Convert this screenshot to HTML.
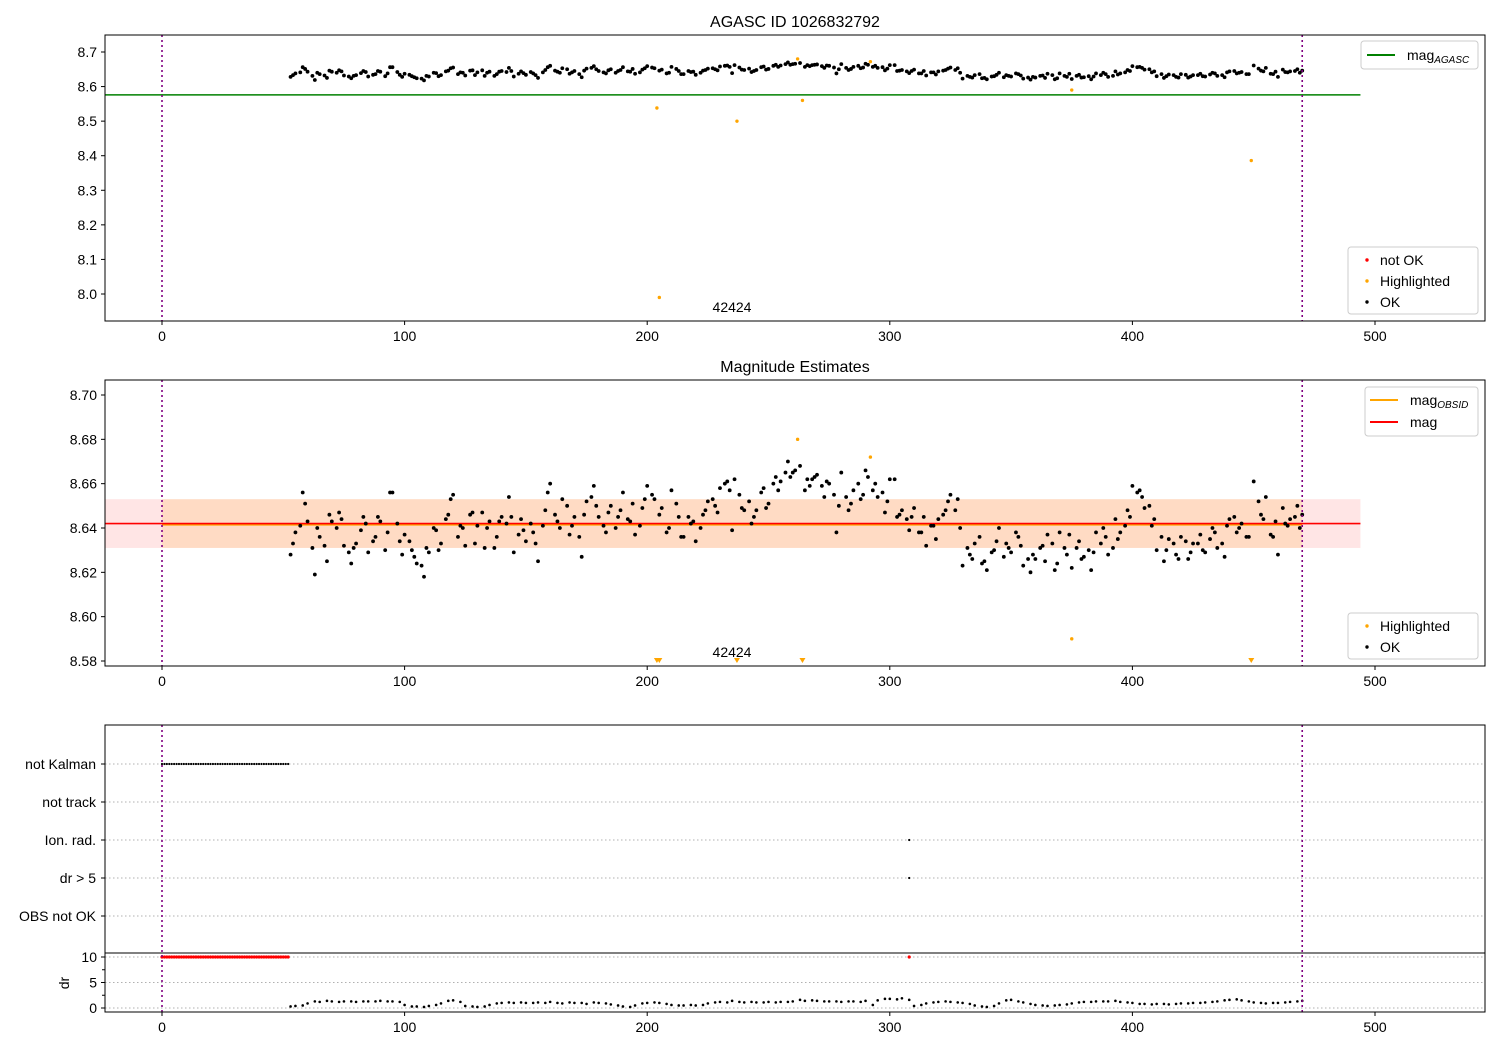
<!DOCTYPE html>
<html><head><meta charset="utf-8">
<style>
body{margin:0;background:#fff;}
svg{display:block;font-family:"Liberation Sans","DejaVu Sans",sans-serif;}
</style></head>
<body>
<svg id="chart" width="1500" height="1050" viewBox="0 0 1500 1050" xmlns="http://www.w3.org/2000/svg">
<rect width="1500" height="1050" fill="#fff"/>
<defs>
<clipPath id="c1"><rect x="105" y="35" width="1380" height="286"/></clipPath>
<clipPath id="c2"><rect x="105" y="380" width="1380" height="286"/></clipPath>
<clipPath id="c3"><rect x="105" y="725" width="1380" height="287"/></clipPath>
</defs>
<text x="795" y="27" text-anchor="middle" font-size="16">AGASC ID 1026832792</text>
<text x="795" y="372" text-anchor="middle" font-size="16">Magnitude Estimates</text>
<g id="g1" clip-path="url(#c1)"></g>
<g id="g2" clip-path="url(#c2)"></g>
<g id="g3" clip-path="url(#c3)"></g>
<g id="axes"></g>
</svg>
<script>
const times=[53,55,58,60,63,65,68,70,73,75,78,80,83,85,88,90,93,95,98,100,103,105,108,110,113,115,118,120,123,125,128,130,133,135,138,140,143,145,148,150,153,155,158,160,163,165,168,170,173,175,178,180,183,185,188,190,193,195,198,200,203,205,208,210,213,215,218,220,223,225,228,230,233,235,238,240,243,245,248,250,253,255,258,260,263,265,268,270,273,275,278,280,283,285,288,290,293,295,298,300,303,305,308,310,313,315,318,320,323,325,328,330,333,335,338,340,343,345,348,350,353,355,358,360,363,365,368,370,373,375,378,380,383,385,388,390,393,395,398,400,403,405,408,410,413,415,418,420,423,425,428,430,433,435,438,440,443,445,448,450,453,455,458,460,463,465,468,470];
const mags=[8.628,8.638,8.656,8.643,8.619,8.636,8.625,8.643,8.647,8.632,
8.624,8.633,8.645,8.629,8.636,8.643,8.638,8.656,8.634,8.637,
8.630,8.624,8.618,8.629,8.639,8.633,8.646,8.655,8.641,8.632,
8.647,8.641,8.631,8.643,8.636,8.645,8.654,8.629,8.644,8.634,
8.638,8.625,8.648,8.660,8.643,8.653,8.637,8.645,8.627,8.652,
8.659,8.645,8.638,8.650,8.645,8.656,8.643,8.637,8.649,8.659,
8.653,8.646,8.638,8.657,8.645,8.636,8.642,8.634,8.646,8.652,
8.650,8.658,8.661,8.639,8.655,8.648,8.642,8.648,8.658,8.651,
8.663,8.661,8.670,8.665,8.668,8.657,8.662,8.664,8.654,8.660,
8.638,8.665,8.648,8.657,8.653,8.666,8.657,8.654,8.647,8.662,
8.645,8.648,8.639,8.649,8.638,8.632,8.641,8.644,8.648,8.655,
8.653,8.623,8.628,8.633,8.624,8.621,8.630,8.640,8.633,8.629,
8.636,8.623,8.620,8.626,8.632,8.637,8.621,8.638,8.628,8.622,
8.634,8.627,8.621,8.638,8.640,8.628,8.644,8.638,8.648,8.659,
8.657,8.649,8.641,8.630,8.625,8.635,8.628,8.636,8.626,8.633,
8.637,8.629,8.640,8.631,8.627,8.644,8.638,8.642,8.636,8.661,
8.646,8.654,8.636,8.628,8.642,8.644,8.650,8.646];
const times2=[54,57,59,62,64,67,69,72,74,77,79,82,84,87,89,92,94,97,99,102,104,107,109,112,114,117,119,122,124,127,129,132,134,137,139,142,144,147,149,152,154,157,159,162,164,167,169,172,174,177,179,182,184,187,189,192,194,197,199,202,206,209,212,214,217,219,222,224,227,229,232,234,236,239,242,244,247,249,252,254,257,259,261,266,267,269,272,274,277,279,282,284,287,289,291,294,297,299,302,304,307,309,312,314,317,319,322,324,327,329,332,334,337,339,342,344,347,349,352,354,357,359,362,364,367,369,372,374,377,379,382,384,387,389,392,394,397,399,402,404,407,409,412,414,417,419,422,424,427,429,432,434,437,439,442,444,447,452,454,457,459,462,464,467,469];
const mags2=[8.633,8.641,8.651,8.631,8.640,8.632,8.646,8.640,8.644,8.629,
8.631,8.639,8.642,8.634,8.645,8.630,8.656,8.642,8.628,8.634,
8.627,8.623,8.631,8.640,8.630,8.644,8.653,8.636,8.640,8.646,
8.633,8.647,8.640,8.631,8.643,8.642,8.645,8.637,8.639,8.642,
8.633,8.641,8.656,8.646,8.640,8.650,8.641,8.636,8.646,8.654,
8.650,8.641,8.647,8.640,8.648,8.644,8.651,8.641,8.653,8.655,
8.649,8.640,8.651,8.636,8.645,8.643,8.640,8.648,8.653,8.647,
8.660,8.657,8.662,8.649,8.652,8.645,8.656,8.649,8.660,8.657,
8.665,8.663,8.666,8.662,8.659,8.663,8.659,8.661,8.655,8.650,
8.654,8.651,8.660,8.655,8.663,8.660,8.656,8.652,8.662,8.646,
8.644,8.645,8.638,8.645,8.641,8.635,8.646,8.652,8.648,8.640,
8.631,8.626,8.636,8.625,8.629,8.634,8.627,8.631,8.638,8.632,
8.626,8.628,8.631,8.625,8.633,8.624,8.631,8.637,8.631,8.626,
8.630,8.629,8.633,8.636,8.631,8.635,8.641,8.645,8.656,8.654,
8.650,8.644,8.636,8.630,8.633,8.626,8.634,8.629,8.633,8.630,
8.635,8.638,8.633,8.641,8.645,8.640,8.636,8.652,8.644,8.637,
8.643,8.649,8.641,8.645,8.640];
const drs=[0.3,0.4,0.5,0.9,1.3,1.2,1.4,1.3,1.2,1.3,
1.3,1.2,1.3,1.3,1.3,1.4,1.3,1.3,1.2,0.6,
0.3,0.3,0.2,0.4,0.6,0.9,1.4,1.5,1.2,0.4,
0.3,0.2,0.3,0.6,0.9,1.0,1.1,1.0,1.1,1.0,
1.0,1.1,1.0,1.2,1.0,0.9,1.1,1.0,1.0,0.8,
1.1,1.0,0.9,0.7,0.5,0.3,0.2,0.5,0.9,1.0,
1.1,1.0,0.8,0.6,0.5,0.5,0.6,0.5,0.6,0.9,
1.1,1.2,1.1,1.4,1.2,1.1,1.2,1.1,1.1,1.2,
1.1,1.2,1.2,1.3,1.6,1.4,1.5,1.4,1.3,1.3,
1.3,1.2,1.3,1.3,1.2,1.4,0.6,1.5,1.8,1.8,
1.7,1.9,1.6,0.4,0.6,0.9,1.1,1.2,1.3,1.2,
1.1,1.0,0.8,0.5,0.3,0.2,0.4,0.9,1.5,1.6,
1.3,1.1,0.8,0.6,0.5,0.4,0.5,0.6,0.7,0.9,
1.1,1.2,1.2,1.3,1.3,1.3,1.4,1.2,1.1,1.0,
0.8,0.8,0.7,0.8,0.8,0.7,0.8,0.9,0.9,1.0,
1.0,1.1,1.2,1.3,1.5,1.6,1.7,1.5,1.3,1.1,
1.0,0.9,1.0,1.0,1.1,1.2,1.3,1.4];
const hiTimes=[204,205,237,262,264,292,375,449];
const hiMags=[8.538,7.990,8.500,8.680,8.560,8.672,8.590,8.386];
const kalmanTimes=[0,1,2,3,4,5,6,7,8,9,10,11,12,13,14,15,16,17,18,19,20,21,22,23,24,25,26,27,28,29,30,31,32,33,34,35,36,37,38,39,40,41,42,43,44,45,46,47,48,49,50,51,52];
const ionTimes=[308];
const drBigTimes=[308];
const agascMag=8.576, obsMag=8.642, magLo=8.631, magHi=8.653;
const xTicks=[0,100,200,300,400,500];
const y1Ticks=[8.0,8.1,8.2,8.3,8.4,8.5,8.6,8.7];
const y2Ticks=[8.58,8.60,8.62,8.64,8.66,8.68,8.70];
const cats=["not Kalman","not track","Ion. rad.","dr > 5","OBS not OK"];
const drTicks=[0,5,10];

const NS="http://www.w3.org/2000/svg";
const X=t=>162+t*2.426;
const Y1=m=>52+(8.7-m)*345.7;
const Y2=m=>395+(8.70-m)*2216.7;
const YD=d=>1008-d*5.1;
const catY=i=>764+i*38;
function mk(tag,attrs,parent){const e=document.createElementNS(NS,tag);for(const k in attrs)e.setAttribute(k,attrs[k]);parent.appendChild(e);return e;}
const g1=document.getElementById('g1'),g2=document.getElementById('g2'),g3=document.getElementById('g3'),ax=document.getElementById('axes');
const allT=times.concat(times2), allM=mags.concat(mags2);

// panel 1
let e;
e=mk('line',{x1:105,x2:X(494),y1:Y1(agascMag),y2:Y1(agascMag),stroke:'#008000','stroke-width':1.6},g1);

allT.forEach((t,i)=>{const c=mk('circle',{cx:X(t),cy:Y1(allM[i]),r:1.9,fill:'#000'},g1);
});
hiTimes.forEach((t,i)=>{const c=mk('circle',{cx:X(t),cy:Y1(hiMags[i]),r:1.7,fill:'orange'},g1);
});

// panel 2
e=mk('rect',{x:105,y:Y2(magHi),width:X(494)-105,height:Y2(magLo)-Y2(magHi),fill:'rgba(255,0,0,0.1)'},g2);

e=mk('rect',{x:X(0),y:Y2(magHi),width:X(470)-X(0),height:Y2(magLo)-Y2(magHi),fill:'rgba(255,165,0,0.14)'},g2);

e=mk('line',{x1:X(0),x2:X(470),y1:Y2(obsMag)+1,y2:Y2(obsMag)+1,stroke:'orange','stroke-width':2},g2);

e=mk('line',{x1:105,x2:X(494),y1:Y2(obsMag),y2:Y2(obsMag),stroke:'red','stroke-width':1.6},g2);

allT.forEach((t,i)=>{const c=mk('circle',{cx:X(t),cy:Y2(allM[i]),r:1.9,fill:'#000'},g2);
});
hiTimes.forEach((t,i)=>{
 if(hiMags[i]<8.58){const x=X(t),y=661;
  const p=mk('path',{d:`M${x-3},${y-3}L${x+3},${y-3}L${x},${y+2}Z`,fill:'orange'},g2);
  }
 else{const c=mk('circle',{cx:X(t),cy:Y2(hiMags[i]),r:1.7,fill:'orange'},g2);
  }
});

// panel 3
cats.forEach((c,i)=>{const l=mk('line',{x1:105,x2:1485,y1:catY(i),y2:catY(i),stroke:'#b0b0b0','stroke-dasharray':'1.5,2.5','stroke-width':1},g3);
});
drTicks.forEach(d=>{const l=mk('line',{x1:105,x2:1485,y1:YD(d),y2:YD(d),stroke:'#b0b0b0','stroke-dasharray':'1.5,2.5','stroke-width':1},g3);
});
kalmanTimes.forEach(t=>{const c=mk('circle',{cx:X(t),cy:catY(0),r:1.1,fill:'#000'},g3);

const r=mk('circle',{cx:X(t),cy:YD(10),r:1.6,fill:'red'},g3);
});
ionTimes.forEach(t=>{const c=mk('circle',{cx:X(t),cy:catY(2),r:1.1,fill:'#000'},g3);
});
drBigTimes.forEach(t=>{const c=mk('circle',{cx:X(t),cy:catY(3),r:1.1,fill:'#000'},g3);

const r=mk('circle',{cx:X(t),cy:YD(10),r:1.6,fill:'red'},g3);
});
times.forEach((t,i)=>{const c=mk('circle',{cx:X(t),cy:YD(drs[i]),r:1.3,fill:'#000'},g3);
});
e=mk('line',{x1:105,x2:1485,y1:953,y2:953,stroke:'#000','stroke-width':1},g3);


// vlines
[[35,321],[380,666],[725,1012]].forEach(([a,b])=>{[0,470].forEach(t=>{
 const l=mk('line',{x1:X(t),x2:X(t),y1:a,y2:b,stroke:'purple','stroke-width':1.6,'stroke-dasharray':'2,3'},ax);
 });});

// frames + x ticks
[[35,321],[380,666],[725,1012]].forEach(([a,b])=>{
 const r=mk('rect',{x:105,y:a,width:1380,height:b-a,fill:'none',stroke:'#000','stroke-width':1},ax);
 
 xTicks.forEach(t=>{mk('line',{x1:X(t),x2:X(t),y1:b,y2:b+4,stroke:'#000'},ax);
  const tx=mk('text',{x:X(t),y:b+20,'text-anchor':'middle','font-size':14},ax);tx.textContent=t;
  });
});
y1Ticks.forEach(v=>{mk('line',{x1:101,x2:105,y1:Y1(v),y2:Y1(v),stroke:'#000'},ax);
 const tx=mk('text',{x:97,y:Y1(v)+5,'text-anchor':'end','font-size':14},ax);tx.textContent=v.toFixed(1);
 });
y2Ticks.forEach(v=>{mk('line',{x1:101,x2:105,y1:Y2(v),y2:Y2(v),stroke:'#000'},ax);
 const tx=mk('text',{x:97,y:Y2(v)+5,'text-anchor':'end','font-size':14},ax);tx.textContent=v.toFixed(2);
 });
cats.forEach((c,i)=>{mk('line',{x1:101,x2:105,y1:catY(i),y2:catY(i),stroke:'#000'},ax);
 const tx=mk('text',{x:96,y:catY(i)+5,'text-anchor':'end','font-size':14},ax);tx.textContent=c;
 });
drTicks.forEach(d=>{mk('line',{x1:101,x2:105,y1:YD(d),y2:YD(d),stroke:'#000'},ax);
 const tx=mk('text',{x:97,y:YD(d)+5,'text-anchor':'end','font-size':14},ax);tx.textContent=d;
 });
[2.5,7.5].forEach(d=>mk('line',{x1:102,x2:105,y1:YD(d),y2:YD(d),stroke:'#000'},ax));
e=mk('text',{x:69,y:983,'text-anchor':'middle','font-size':14,transform:'rotate(-90 69 983)'},ax);e.textContent='dr';

[312,657].forEach(y=>{const t=mk('text',{x:732,y:y,'text-anchor':'middle','font-size':14},ax);t.textContent='42424';
 });

// legends
function box(x,y,w,h,name){const r=mk('rect',{x:x,y:y,width:w,height:h,rx:3,fill:'rgba(255,255,255,0.8)',stroke:'#ccc'},ax);
 }
function lineEntry(x,y,color,label,sub){mk('line',{x1:x,x2:x+28,y1:y,y2:y,stroke:color,'stroke-width':2},ax);
 const t=mk('text',{x:x+40,y:y+5,'font-size':14},ax);t.textContent=label;
 
 if(sub){const s=mk('tspan',{'font-size':10,'font-style':'italic',dy:3},t);s.textContent=sub;}}
function dotEntry(x,y,color,label){mk('circle',{cx:x+19,cy:y,r:1.7,fill:color},ax);
 const t=mk('text',{x:x+32,y:y+5,'font-size':14},ax);t.textContent=label;
 }
box(1361,41,117,28,'agasc-legend');lineEntry(1367,55,'green','mag','AGASC');
box(1348,247,130,67,'status-legend');dotEntry(1348,260,'red','not OK');dotEntry(1348,281,'orange','Highlighted');dotEntry(1348,302,'#000','OK');
box(1365,387,113,49,'mag-legend');lineEntry(1370,400,'orange','mag','OBSID');lineEntry(1370,422,'red','mag');
box(1348,613,130,46,'estimates-status-legend');dotEntry(1348,626,'orange','Highlighted');dotEntry(1348,647,'#000','OK');
</script>
</body></html>
